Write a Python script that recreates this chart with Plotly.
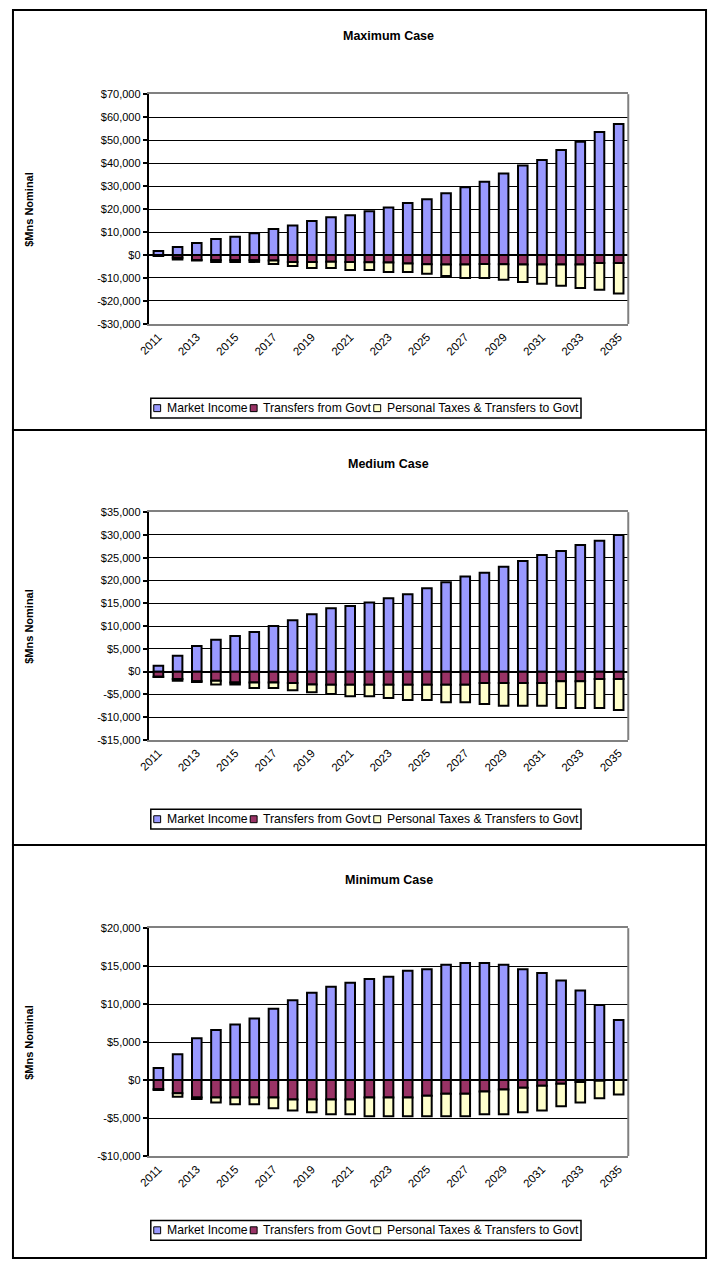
import plotly.graph_objects as go

# ---- data ($ millions, nominal) ----
years = list(range(2011, 2036))

max_market = [1700, 3500, 5200, 7000, 7900, 9500, 11300, 12900, 14800, 16400, 17300, 19100, 20700,
              22600, 24300, 26900, 29500, 31900, 35500, 39000, 41400, 45700, 49300, 53500, 57000]
max_transfers = [-400, -1200, -2200, -2300, -2300, -2300, -2400, -3000, -3000, -2900, -3000, -3100, -3300,
                 -3700, -4000, -4100, -4100, -3900, -4000, -4100, -4100, -4100, -4100, -3500, -3500]
max_taxes = [0, -800, -200, -700, -700, -700, -1500, -1800, -2600, -2700, -3500, -3400, -4100,
             -3700, -4200, -5000, -5900, -6100, -6800, -7600, -8400, -9300, -10200, -11600, -13200]

med_market = [1300, 3500, 5600, 7000, 7800, 8700, 10000, 11300, 12600, 13900, 14400, 15200, 16100,
              17000, 18300, 19600, 20900, 21700, 23000, 24300, 25600, 26500, 27800, 28700, 30000]
med_transfers = [-1100, -1600, -2100, -2000, -2400, -2400, -2400, -2500, -2800, -2900, -2900, -2900, -2900,
                 -2900, -2900, -2900, -2900, -2500, -2500, -2500, -2500, -2100, -2100, -1600, -1600]
med_taxes = [-100, -400, -200, -800, -400, -1200, -1200, -1600, -1700, -2000, -2500, -2500, -2900,
             -3300, -3300, -3800, -3800, -4600, -5000, -5000, -5000, -5900, -5900, -6400, -6800]

min_market = [1600, 3400, 5500, 6600, 7300, 8100, 9400, 10500, 11500, 12300, 12800, 13300, 13600,
              14400, 14600, 15200, 15400, 15400, 15200, 14600, 14100, 13100, 11800, 9900, 7900]
min_transfers = [-1200, -1750, -2300, -2300, -2300, -2300, -2300, -2550, -2550, -2550, -2550, -2300, -2300,
                 -2300, -2050, -1800, -1800, -1500, -1250, -1000, -750, -500, -250, -100, 0]
min_taxes = [-100, -450, -200, -650, -900, -900, -1400, -1450, -1700, -1950, -1950, -2450, -2450,
             -2450, -2700, -2950, -2950, -3000, -3250, -3250, -3250, -2950, -2700, -2300, -1900]

series_names = ["Market Income", "Transfers from Govt", "Personal Taxes & Transfers to Govt"]
series_colors = ["#9999FF", "#993366", "#FFFFCC"]

panels = [
    dict(title="Maximum Case", data=[max_market, max_transfers, max_taxes],
         yrange=(-30000, 70000), ystep=10000, top=89, bottom=321, title_y=30, legend_top=396),
    dict(title="Medium Case", data=[med_market, med_transfers, med_taxes],
         yrange=(-15000, 35000), ystep=5000, top=511, bottom=741, title_y=462, legend_top=811),
    dict(title="Minimum Case", data=[min_market, min_transfers, min_taxes],
         yrange=(-10000, 20000), ystep=5000, top=931, bottom=1161, title_y=882, legend_top=1226),
]
frames = [(4, 428), (428, 847), (847, 1264)]

W, H = 708, 1266
PLOT_L, PLOT_R = 140, 627
FONT = "Arial, Liberation Sans, sans-serif"

# legend box geometry (pixels): box span/height, swatch centres, label starts
LEG_BOX = (142, 579, 20)
LEG_SWATCH_X = [148.5, 246.5, 372]
LEG_TEXT_X = [156, 254, 379.5]
LEG_FONT = 12.2


def py(p):
    """pixel row -> paper fraction"""
    return 1 - p / H


def px(p):
    """pixel column -> paper fraction"""
    return p / W


def money(v):
    return ("-$" if v < 0 else "$") + f"{abs(v):,}"


fig = go.Figure()
layout = dict(
    width=W, height=H, margin=dict(l=0, r=0, t=0, b=0),
    paper_bgcolor="white", plot_bgcolor="white",
    barmode="relative", bargap=0.5, showlegend=False,
    font=dict(family=FONT, size=11, color="black"),
    shapes=[], annotations=[],
)

xdom = [px(PLOT_L), px(PLOT_R)]
for i, p in enumerate(panels):
    n = i + 1
    xa = "x" if n == 1 else f"x{n}"
    ya = "y" if n == 1 else f"y{n}"
    xkey = "xaxis" if n == 1 else f"xaxis{n}"
    ykey = "yaxis" if n == 1 else f"yaxis{n}"

    for name, color, vals in zip(series_names, series_colors, p["data"]):
        fig.add_trace(go.Bar(
            x=years, y=vals, name=name, xaxis=xa, yaxis=ya,
            marker=dict(color=color, line=dict(color="black", width=2)),
        ))

    ydom = [py(p["bottom"]), py(p["top"])]
    y0, y1 = p["yrange"]
    tvals = list(range(y0, y1 + 1, p["ystep"]))

    layout[xkey] = dict(
        domain=xdom, anchor=ya, range=[years[0] - 0.5, years[-1] + 0.5],
        tickvals=years[::2], ticktext=[str(y) for y in years[::2]], tickangle=-45,
        tickfont=dict(size=11.5, family=FONT), ticks="",
        showline=True, linecolor="#808080", linewidth=2, mirror=True,
        showgrid=False, zeroline=False,
    )
    layout[ykey] = dict(
        domain=ydom, anchor=xa, range=[y0, y1],
        tickvals=tvals, ticktext=[money(v) for v in tvals],
        tickfont=dict(size=11, family=FONT), ticks="outside", ticklen=4,
        tickwidth=1.5, tickcolor="black",
        showline=True, linecolor="black", linewidth=2,
        showgrid=True, gridcolor="black", gridwidth=1,
        zeroline=True, zerolinecolor="black", zerolinewidth=2,
    )

    # category tick marks along the zero line
    zero_frac = ydom[0] + (0 - y0) / (y1 - y0) * (ydom[1] - ydom[0])
    tkey = f"xaxis{n + 3}"
    layout[tkey] = dict(
        domain=xdom, overlaying=xa, anchor="free", position=zero_frac, side="bottom",
        range=[years[0] - 0.5, years[-1] + 0.5],
        tickvals=[y + 0.5 for y in years[:-1]], ticks="outside", ticklen=4,
        tickwidth=1.5, tickcolor="black", showticklabels=False,
        showline=False, showgrid=False, zeroline=False,
    )

    # right-hand edge of the plot area
    layout["shapes"].append(dict(
        type="line", xref="paper", yref="paper", x0=xdom[1], x1=xdom[1], y0=ydom[0], y1=ydom[1],
        line=dict(color="#808080", width=2),
    ))
    # chart frame
    f0, f1 = frames[i]
    layout["shapes"].append(dict(
        type="rect", xref="paper", yref="paper", x0=px(2), x1=px(706), y0=py(f1), y1=py(f0),
        line=dict(color="black", width=2), layer="above",
    ))

    layout["annotations"].append(dict(
        text=f"<b>{p['title']}</b>", xref="paper", yref="paper",
        x=(xdom[0] + xdom[1]) / 2, y=py(p["title_y"]), xanchor="center", yanchor="middle",
        showarrow=False, font=dict(size=12.5, family=FONT),
    ))
    layout["annotations"].append(dict(
        text="<b>$Mns Nominal</b>", xref="paper", yref="paper", textangle=-90,
        x=px(18), y=(ydom[0] + ydom[1]) / 2, xanchor="center", yanchor="middle",
        showarrow=False, font=dict(size=11, family=FONT),
    ))

    # legend: framed box with a swatch and label per series
    bx0, bx1, bh = LEG_BOX
    lt = p["legend_top"]
    mid = lt + bh / 2
    layout["shapes"].append(dict(
        type="rect", xref="paper", yref="paper", x0=px(bx0), x1=px(bx1), y0=py(lt + bh), y1=py(lt),
        line=dict(color="black", width=1.5), fillcolor="white", layer="above",
    ))
    for name, color, sx, tx in zip(series_names, series_colors, LEG_SWATCH_X, LEG_TEXT_X):
        layout["shapes"].append(dict(
            type="rect", xref="paper", yref="paper",
            x0=px(sx - 3.5), x1=px(sx + 3.5), y0=py(mid + 3.5), y1=py(mid - 3.5),
            line=dict(color="black", width=1), fillcolor=color, layer="above",
        ))
        layout["annotations"].append(dict(
            text=name, xref="paper", yref="paper", x=px(tx), y=py(mid),
            xanchor="left", yanchor="middle", showarrow=False,
            font=dict(size=LEG_FONT, family=FONT),
        ))

fig.update_layout(**layout)
fig.write_html("out.html", post_script="document.body.style.margin='0';")
